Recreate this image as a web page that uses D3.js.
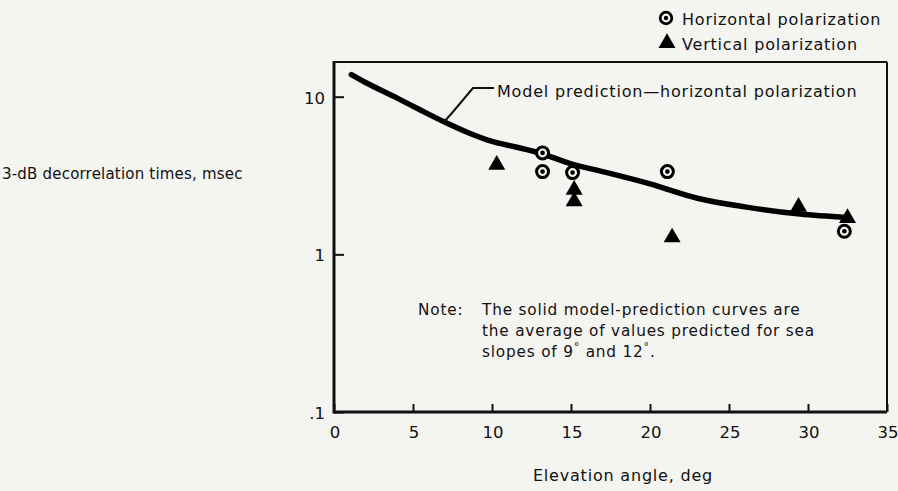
<!DOCTYPE html>
<html>
<head>
<meta charset="utf-8">
<script src="https://cdn.jsdelivr.net/npm/d3@7"></script>
<style>
  body { margin: 0; background: #f4f4f1; }
  svg { display: block; font-family: "DejaVu Sans", sans-serif; }
  .lbl { font-size: 16px; letter-spacing: 0.8px; fill: #111; }
</style>
</head>
<body>
<svg id="chart" width="898" height="491"></svg>
<script>
// model curve (elevation deg, msec)
const modelAngle = [1.1, 2, 4, 5.5, 7, 8.5, 10, 11.5, 13, 15, 17, 20, 23, 26, 29.5, 32.5];
const modelTime = [13.8, 12.3, 9.8, 8.2, 6.9, 5.9, 5.2, 4.8, 4.4, 3.75, 3.35, 2.8, 2.27, 2.0, 1.8, 1.71];

// measured horizontal polarization
const horizAngle = [13.2, 13.2, 15.1, 21.1, 32.3];
const horizTime = [4.4, 3.35, 3.3, 3.35, 1.4];

// measured vertical polarization
const vertAngle = [10.3, 15.2, 15.2, 21.4, 29.4, 32.5];
const vertTime = [3.7, 2.57, 2.17, 1.28, 2.0, 1.7];

const xTicks = [0, 5, 10, 15, 20, 25, 30, 35];
const yTicks = [0.1, 1, 10];
const yTickLabels = [".1", "1", "10"];

const svg = d3.select("#chart");
const mLeft = 334, mRight = 887, mTop = 62, mBottom = 412;

const x = d3.scaleLinear().domain([0, 35]).range([mLeft, mRight]);
const y = d3.scaleLog().domain([0.1, 16.6]).range([mBottom, mTop]);

// frame
svg.append("line").attr("x1", mLeft).attr("x2", mRight).attr("y1", mTop).attr("y2", mTop)
    .attr("stroke", "#111").attr("stroke-width", 2);
svg.append("line").attr("x1", mRight).attr("x2", mRight).attr("y1", mTop).attr("y2", mBottom)
    .attr("stroke", "#111").attr("stroke-width", 2);

// x axis, ticks pointing inward
const xAxis = d3.axisTop(x).tickValues(xTicks).tickSize(8).tickFormat("");
const gx = svg.append("g").attr("transform", `translate(0,${mBottom})`).call(xAxis);
gx.select(".domain").remove();
gx.selectAll("line").attr("stroke", "#111").attr("stroke-width", 2);
svg.append("line").attr("x1", mLeft).attr("x2", mRight).attr("y1", mBottom).attr("y2", mBottom)
    .attr("stroke", "#111").attr("stroke-width", 3);

svg.selectAll(".xlab").data(xTicks).enter().append("text")
    .attr("class", "xlab")
    .attr("x", d => x(d) + 1).attr("y", 438)
    .attr("text-anchor", "middle")
    .attr("font-size", 16.5).attr("fill", "#111")
    .text(d => d);

// y axis
const yAxis = d3.axisRight(y).tickValues(yTicks).tickSize(10).tickFormat("");
const gy = svg.append("g").attr("transform", `translate(${mLeft},0)`).call(yAxis);
gy.select(".domain").remove();
gy.selectAll("line").attr("stroke", "#111").attr("stroke-width", 2);
svg.append("line").attr("x1", mLeft).attr("x2", mLeft).attr("y1", mTop - 1).attr("y2", mBottom + 1.5)
    .attr("stroke", "#111").attr("stroke-width", 3);

svg.selectAll(".ylab").data(yTicks).enter().append("text")
    .attr("class", "ylab")
    .attr("x", mLeft - 9).attr("y", d => y(d) + 7)
    .attr("text-anchor", "end")
    .attr("font-size", 16.5).attr("fill", "#111")
    .text((d, i) => yTickLabels[i]);

// titles
svg.append("text").attr("class", "lbl").attr("x", 2).attr("y", 179)
    .style("font-size", "15px").style("letter-spacing", "0.2px")
    .text("3-dB decorrelation times, msec");
svg.append("text").attr("class", "lbl").attr("x", 623).attr("y", 481).attr("text-anchor", "middle")
    .text("Elevation angle, deg");

// model curve
const pts = modelAngle.map((a, i) => [a, modelTime[i]]);
const line = d3.line().x(d => x(d[0])).y(d => y(d[1])).curve(d3.curveMonotoneX);
svg.append("path").datum(pts).attr("d", line)
    .attr("fill", "none").attr("stroke", "#000").attr("stroke-width", 5.5)
    .attr("stroke-linecap", "round");

// leader line for the model label
svg.append("path")
    .attr("d", "M443,123 L452,113 L473,88 L494,88")
    .attr("fill", "none").attr("stroke", "#111").attr("stroke-width", 2);
svg.append("text").attr("class", "lbl").attr("x", 497).attr("y", 97)
    .text("Model prediction\u2014horizontal polarization");

// markers
const tri = d3.symbol().type(d3.symbolTriangle).size(125);
svg.selectAll(".vert").data(vertAngle).enter().append("path")
    .attr("class", "vert")
    .attr("transform", (d, i) => `translate(${x(d)},${y(vertTime[i])})`)
    .attr("d", tri).attr("fill", "#000");

const hg = svg.selectAll(".horiz").data(horizAngle).enter().append("g")
    .attr("class", "horiz")
    .attr("transform", (d, i) => `translate(${x(d)},${y(horizTime[i])})`);
hg.append("circle").attr("r", 6).attr("fill", "#f4f4f1").attr("stroke", "#000").attr("stroke-width", 3);
hg.append("circle").attr("r", 2.3).attr("fill", "#000");

// legend
const lg = svg.append("g");
const lc = lg.append("g").attr("transform", "translate(666,18)");
lc.append("circle").attr("r", 5.8).attr("fill", "#f4f4f1").attr("stroke", "#000").attr("stroke-width", 2.8);
lc.append("circle").attr("r", 2.2).attr("fill", "#000");
lg.append("text").attr("class", "lbl").attr("x", 682).attr("y", 25)
    .text("Horizontal polarization");
lg.append("path").attr("transform", "translate(667,43)").attr("d", tri).attr("fill", "#000");
lg.append("text").attr("class", "lbl").attr("x", 682).attr("y", 50)
    .text("Vertical polarization");

// note
const note = svg.append("g").attr("class", "lbl").style("font-size", "15.3px");
note.append("text").attr("x", 418).attr("y", 315).text("Note:");
note.append("text").attr("x", 482).attr("y", 315).text("The solid model-prediction curves are");
note.append("text").attr("x", 482).attr("y", 336).text("the average of values predicted for sea");
const n3 = note.append("text").attr("x", 482).attr("y", 357);
n3.append("tspan").text("slopes of 9");
n3.append("tspan").attr("dy", -7).attr("font-size", 11).text("\u00b0");
n3.append("tspan").attr("dy", 7).text(" and 12");
n3.append("tspan").attr("dy", -7).attr("font-size", 11).text("\u00b0");
n3.append("tspan").attr("dy", 7).text(".");
</script>
</body>
</html>
